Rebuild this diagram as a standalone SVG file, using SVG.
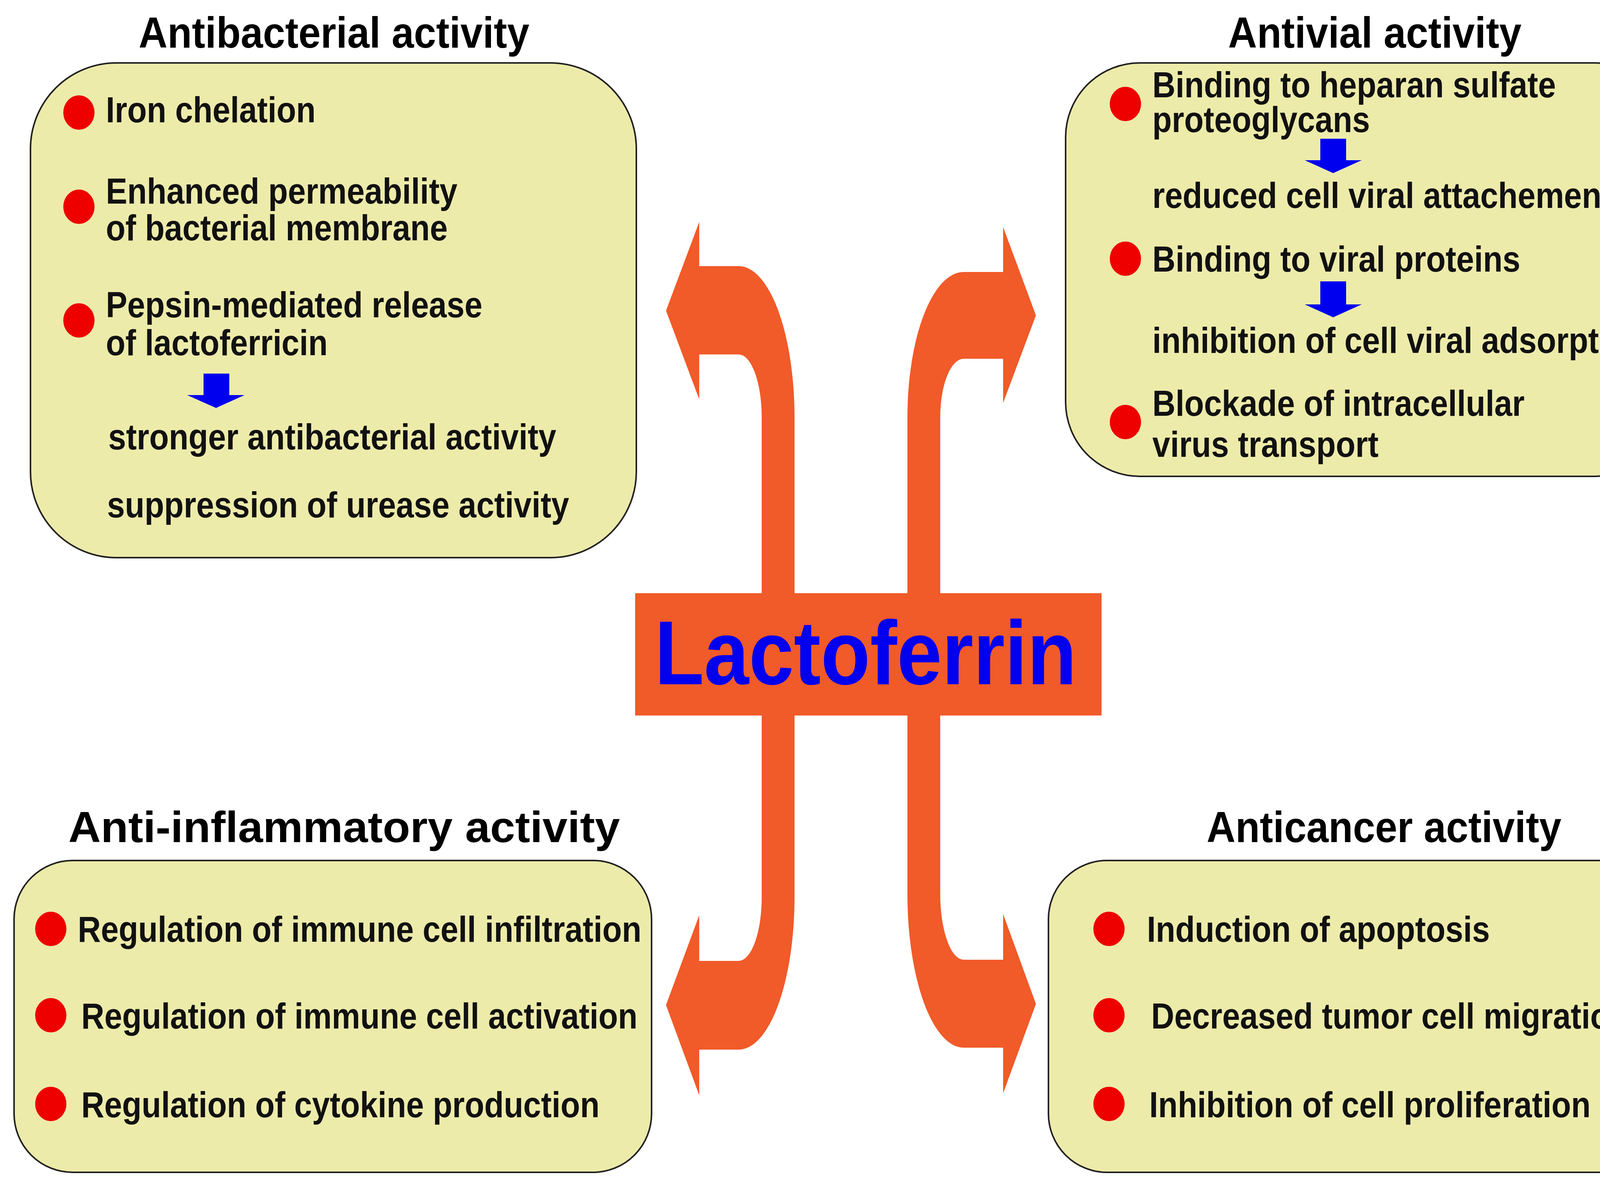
<svg xmlns="http://www.w3.org/2000/svg" width="4344" height="3035" viewBox="0 0 4344 3035">
<style>
.box{fill:#EDEBAA;stroke:#222;stroke-width:4}
.t{font-family:"Liberation Sans",Arial,sans-serif;font-weight:bold;font-size:92px;fill:#111}
.h{font-family:"Liberation Sans",Arial,sans-serif;font-weight:bold;font-size:112px;fill:#000}
.dot{fill:#EE0000}
.ba{fill:#0000EE}
.arr{fill:#F15A29}
</style>
<rect width="4344" height="3035" fill="#fff"/>
<g id="connectors">
<path class="arr" d="M1705,795 L1790,568 L1790,681 L1891,681 A143,387 0 0 1 2034,1068 L2034,2296 A143,390 0 0 1 1891,2686 L1790,2686 L1790,2803 L1705,2572 L1790,2342 L1790,2459 L1891,2459 A59,163 0 0 0 1950,2296 L1950,1068 A59,161 0 0 0 1891,907 L1790,907 L1790,1022 Z"/>
<path class="arr" d="M2652,807 L2568,581 L2568,696 L2467,696 A144,372 0 0 0 2323,1068 L2323,2288 A144,393 0 0 0 2467,2681 L2568,2681 L2568,2798 L2652,2569 L2568,2339 L2568,2456 L2467,2456 A60,168 0 0 1 2407,2288 L2407,1068 A60,150 0 0 1 2467,918 L2568,918 L2568,1031 Z"/>
</g>
<g id="center">
<rect x="1626" y="1518" width="1194" height="313" fill="#F15A29"/>
<text x="1676" y="1751" font-family="Liberation Sans,Arial,sans-serif" font-weight="bold" font-size="232" fill="#0000EE" textLength="1080" lengthAdjust="spacingAndGlyphs">Lactoferrin</text>
</g>
<g id="antibacterial">
<text class="h" x="355" y="122" textLength="1000" lengthAdjust="spacingAndGlyphs">Antibacterial activity</text>
<rect class="box" x="78" y="161" width="1551" height="1266" rx="220" ry="220"/>
<ellipse class="dot" cx="202" cy="288" rx="40" ry="44"/>
<ellipse class="dot" cx="202" cy="529" rx="40" ry="44"/>
<ellipse class="dot" cx="202" cy="820" rx="40" ry="44"/>
<text class="t" x="271" y="313" textLength="537" lengthAdjust="spacingAndGlyphs">Iron chelation</text>
<text class="t" x="271" y="521" textLength="900" lengthAdjust="spacingAndGlyphs">Enhanced permeability</text>
<text class="t" x="271" y="615" textLength="875" lengthAdjust="spacingAndGlyphs">of bacterial membrane</text>
<text class="t" x="271" y="812" textLength="964" lengthAdjust="spacingAndGlyphs">Pepsin-mediated release</text>
<text class="t" x="271" y="909" textLength="568" lengthAdjust="spacingAndGlyphs">of lactoferricin</text>
<path class="ba" d="M521,956 H587 V1011 H626 L553,1044 L479,1011 H521 Z"/>
<text class="t" x="277" y="1150" textLength="1147" lengthAdjust="spacingAndGlyphs">stronger antibacterial activity</text>
<text class="t" x="274" y="1324" textLength="1183" lengthAdjust="spacingAndGlyphs">suppression of urease activity</text>
</g>
<g id="antiviral">
<text class="h" x="3144" y="122" textLength="751" lengthAdjust="spacingAndGlyphs">Antivial activity</text>
<rect class="box" x="2728" y="161" width="1546" height="1058" rx="190" ry="190"/>
<ellipse class="dot" cx="2881" cy="266" rx="40" ry="44"/>
<ellipse class="dot" cx="2881" cy="662" rx="40" ry="44"/>
<ellipse class="dot" cx="2881" cy="1080" rx="40" ry="44"/>
<text class="t" x="2950" y="249" textLength="1033" lengthAdjust="spacingAndGlyphs">Binding to heparan sulfate</text>
<text class="t" x="2950" y="338" textLength="557" lengthAdjust="spacingAndGlyphs">proteoglycans</text>
<path class="ba" d="M3380,355 H3446 V410 H3486 L3413,443 L3340,410 H3380 Z"/>
<text class="t" x="2950" y="532" textLength="1177" lengthAdjust="spacingAndGlyphs">reduced cell viral attachement</text>
<text class="t" x="2950" y="695" textLength="942" lengthAdjust="spacingAndGlyphs">Binding to viral proteins</text>
<path class="ba" d="M3380,720 H3446 V779 H3486 L3413,812 L3340,779 H3380 Z"/>
<text class="t" x="2950" y="903" textLength="1266" lengthAdjust="spacingAndGlyphs">inhibition of cell viral adsorption</text>
<text class="t" x="2950" y="1064" textLength="953" lengthAdjust="spacingAndGlyphs">Blockade of intracellular</text>
<text class="t" x="2950" y="1169" textLength="579" lengthAdjust="spacingAndGlyphs">virus transport</text>
</g>
<g id="antiinflammatory">
<text class="h" x="175" y="2155" textLength="1412" lengthAdjust="spacingAndGlyphs">Anti-inflammatory activity</text>
<rect class="box" x="36" y="2202" width="1632" height="798" rx="150" ry="150"/>
<ellipse class="dot" cx="130" cy="2377" rx="40" ry="44"/>
<ellipse class="dot" cx="130" cy="2598" rx="40" ry="44"/>
<ellipse class="dot" cx="130" cy="2825" rx="40" ry="44"/>
<text class="t" x="199" y="2410" textLength="1443" lengthAdjust="spacingAndGlyphs">Regulation of immune cell infiltration</text>
<text class="t" x="208" y="2632" textLength="1424" lengthAdjust="spacingAndGlyphs">Regulation of immune cell activation</text>
<text class="t" x="208" y="2859" textLength="1327" lengthAdjust="spacingAndGlyphs">Regulation of cytokine production</text>
</g>
<g id="anticancer">
<text class="h" x="3089" y="2155" textLength="908" lengthAdjust="spacingAndGlyphs">Anticancer activity</text>
<rect class="box" x="2684" y="2202" width="1632" height="798" rx="150" ry="150"/>
<ellipse class="dot" cx="2839" cy="2377" rx="40" ry="44"/>
<ellipse class="dot" cx="2839" cy="2598" rx="40" ry="44"/>
<ellipse class="dot" cx="2839" cy="2825" rx="40" ry="44"/>
<text class="t" x="2936" y="2410" textLength="878" lengthAdjust="spacingAndGlyphs">Induction of apoptosis</text>
<text class="t" x="2947" y="2632" textLength="1224" lengthAdjust="spacingAndGlyphs">Decreased tumor cell migration</text>
<text class="t" x="2942" y="2859" textLength="1130" lengthAdjust="spacingAndGlyphs">Inhibition of cell proliferation</text>
</g>
</svg>
